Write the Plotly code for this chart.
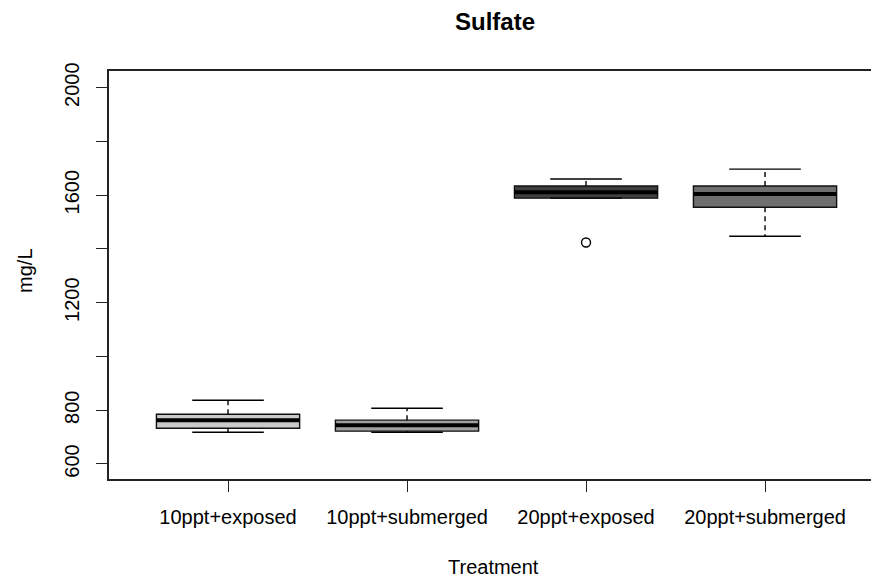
import plotly.graph_objects as go

categories = ["10ppt+exposed", "10ppt+submerged", "20ppt+exposed", "20ppt+submerged"]
lower_whisker = [718, 718, 1589, 1447]
q1 = [733, 722, 1589, 1555]
median = [763, 744, 1611, 1604]
q3 = [785, 763, 1634, 1634]
upper_whisker = [837, 807, 1660, 1697]
outliers = [[], [], [1424], []]
fill_colors = ["#c9c9c9", "#a1a1a1", "#404040", "#6f6f6f"]

y_tick_vals = [600, 800, 1000, 1200, 1400, 1600, 1800, 2000]
y_tick_text = ["600", "800", "", "1200", "", "1600", "", "2000"]

BOX_W = 0.8
CAP_HALF = 0.2
FONT = "Liberation Sans, Arial, sans-serif"

fig = go.Figure()
for i, cat in enumerate(categories):
    xpos = i + 1
    fig.add_trace(go.Box(
        x=[xpos], q1=[q1[i]], median=[median[i]], q3=[q3[i]],
        lowerfence=[q1[i]], upperfence=[q3[i]],
        width=BOX_W, whiskerwidth=0, fillcolor=fill_colors[i],
        line=dict(color="#111111", width=1.4), boxpoints=False,
        hoverinfo="skip", showlegend=False, name=cat))
    # thick median
    fig.add_trace(go.Scatter(
        x=[xpos - BOX_W / 2, xpos + BOX_W / 2], y=[median[i], median[i]],
        mode="lines", line=dict(color="black", width=4),
        hoverinfo="skip", showlegend=False))
    # dashed whiskers
    for a, b in [(q3[i], upper_whisker[i]), (q1[i], lower_whisker[i])]:
        if a != b:
            fig.add_trace(go.Scatter(
                x=[xpos, xpos], y=[a, b], mode="lines",
                line=dict(color="black", width=1.4, dash="5px,4px"),
                hoverinfo="skip", showlegend=False))
    # caps
    for w in [upper_whisker[i], lower_whisker[i]]:
        fig.add_trace(go.Scatter(
            x=[xpos - CAP_HALF, xpos + CAP_HALF], y=[w, w], mode="lines",
            line=dict(color="black", width=1.4),
            hoverinfo="skip", showlegend=False))
    if outliers[i]:
        fig.add_trace(go.Scatter(
            x=[xpos] * len(outliers[i]), y=outliers[i], mode="markers",
            marker=dict(symbol="circle-open", size=9, color="black",
                        line=dict(width=1.4)),
            hoverinfo="skip", showlegend=False))

fig.update_layout(
    width=871, height=579,
    margin=dict(l=109, r=0, t=71, b=100, autoexpand=False),
    paper_bgcolor="white", plot_bgcolor="white",
    font=dict(family=FONT, size=20, color="black"),
    title=dict(text="<b>Sulfate</b>", font=dict(size=24, color="black"),
               xref="container", x=495 / 871, xanchor="center",
               yref="container", y=1 - 22 / 579, yanchor="middle",
               automargin=False),
    xaxis=dict(range=[0.335, 4.592], tickmode="array", tickvals=[1, 2, 3, 4],
               ticktext=categories, ticks="outside", ticklen=11, tickwidth=1.4,
               tickcolor="#222", showline=True, mirror=True, linecolor="#222",
               linewidth=1.5, showgrid=False, zeroline=False, automargin=False,
               tickfont=dict(size=20), ticklabelstandoff=8),
    yaxis=dict(range=[544, 2062], tickmode="array", tickvals=y_tick_vals,
               ticktext=y_tick_text, tickangle=-90, ticks="outside", ticklen=11,
               tickwidth=1.4, tickcolor="#222", showline=True, mirror=False,
               linecolor="#222", linewidth=1.5, showgrid=False, zeroline=False,
               automargin=False, tickfont=dict(size=20), ticklabelstandoff=9),
    annotations=[
        dict(text="mg/L", textangle=-90, xref="paper", yref="paper",
             x=(25 - 109) / 762, y=0.51, xanchor="center", yanchor="middle",
             showarrow=False, font=dict(size=20)),
        dict(text="Treatment", xref="paper", yref="paper",
             x=(493 - 109) / 762, y=(479 - 567) / 408, xanchor="center",
             yanchor="middle", showarrow=False, font=dict(size=20)),
    ],
)

fig.write_html("out.html", config={"displayModeBar": False},
               post_script="document.body.style.margin='0';document.body.style.overflow='hidden';")
